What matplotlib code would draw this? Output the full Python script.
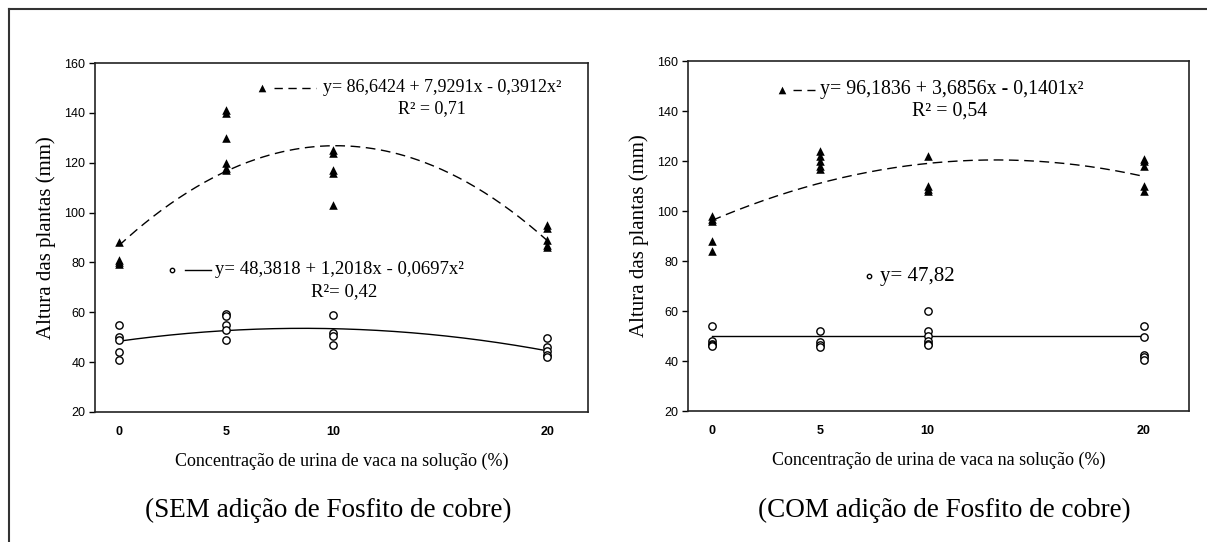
import matplotlib.pyplot as plt
from matplotlib.lines import Line2D
import numpy as np

# doses (% urina de vaca)
doses = [0, 5, 10, 20]

# SEM fosfito - triangulos (pontos por dose)
sem_tri = {0: [88, 81, 80, 79.5],
           5: [141, 140, 130, 120, 118, 117],
           10: [125, 124, 117, 116, 103],
           20: [95, 94, 89, 87, 86]}
sem_circ = {0: [55, 50, 49, 44, 41],
            5: [59.5, 58.5, 55, 53, 49],
            10: [59, 51.5, 50.5, 47],
            20: [49.5, 46, 44.5, 43, 42]}

# COM fosfito
com_tri = {0: [98, 97, 96, 88, 84],
           5: [124, 122, 120, 118, 117],
           10: [122, 110, 109, 108],
           20: [121, 120, 118, 110, 108]}
com_circ = {0: [54, 48, 47, 46.5, 46],
            5: [52, 47.5, 46.5, 45.5],
            10: [60, 52, 50, 48, 47, 46.5],
            20: [54, 49.5, 42.5, 41.5, 40.5]}

# coeficientes das regressoes
sem_tri_coef = [86.6424, 7.9291, -0.3912]
sem_circ_coef = [48.3818, 1.2018, -0.0697]
com_tri_coef = [96.1836, 3.6856, -0.1401]
com_circ_line = 50.2  # linha desenhada (y= 47,82 no texto)

yticks = [20, 40, 60, 80, 100, 120, 140, 160]

serif = ['Liberation Serif', 'DejaVu Serif']
sans = ['Liberation Sans', 'DejaVu Sans']

fig = plt.figure(figsize=(12.07, 5.42), dpi=100)
W, H = 1207, 542


def ax_rect(x0, x1, ytop, ybot):
    return [x0 / W, 1 - ybot / H, (x1 - x0) / W, (ybot - ytop) / H]


def quad(c, x):
    return c[0] + c[1] * x + c[2] * x ** 2


def draw_points(ax, pts, marker, filled):
    for d in doses:
        xs = [d] * len(pts[d])
        if filled:
            ax.scatter(xs, pts[d], marker=marker, s=38, c='black', zorder=3, linewidths=0)
        else:
            ax.scatter(xs, pts[d], marker=marker, s=28, facecolors='white',
                       edgecolors='black', linewidths=1.0, zorder=3)


def setup(ax, xlim):
    ax.set_xlim(*xlim)
    ax.set_ylim(20, 160)
    ax.set_xticks(doses)
    ax.set_yticks(yticks)
    ax.tick_params(axis='x', length=0, pad=10)
    ax.tick_params(axis='y', length=4, width=1, direction='out', pad=3)
    for lab in ax.get_xticklabels():
        lab.set_fontfamily(sans)
        lab.set_fontsize(9)
        lab.set_fontweight('bold')
    for lab in ax.get_yticklabels():
        lab.set_fontfamily(sans)
        lab.set_fontsize(9)
    for sp in ax.spines.values():
        sp.set_linewidth(1.2)
        sp.set_color('#222222')
    ax.set_ylabel('Altura das plantas (mm)', family=serif, fontsize=15, labelpad=6)
    ax.set_xlabel('Concentração de urina de vaca na solução (%)', family=serif,
                  fontsize=13, labelpad=11)


xx = np.linspace(0, 20, 200)
dash = (0, (7, 4))
short = (0, (6, 4))

# ---- painel esquerdo (SEM)
ax1 = fig.add_axes(ax_rect(95, 588, 63, 412))
setup(ax1, (-1.1, 21.9))
draw_points(ax1, sem_tri, '^', True)
draw_points(ax1, sem_circ, 'o', False)
ax1.plot(xx, quad(sem_tri_coef, xx), color='black', lw=1, linestyle=dash, zorder=2)
ax1.plot(xx, quad(sem_circ_coef, xx), color='black', lw=1, zorder=2)

ax1.scatter([6.67], [150], marker='^', s=30, c='black', linewidths=0)
ax1.plot([7.25, 9.2], [150, 150], color='black', lw=1, linestyle=short)
ax1.text(9.55, 150, 'y= 86,6424 + 7,9291x - 0,3912x²', family=serif, fontsize=13,
         va='center', ha='left')
ax1.text(14.6, 141.8, 'R² = 0,71', family=serif, fontsize=13, va='center', ha='center')

ax1.scatter([2.47], [77], marker='o', s=10, facecolors='white', edgecolors='black', linewidths=1)
ax1.plot([3.1, 4.3], [77, 77], color='black', lw=1)
ax1.text(4.5, 77, 'y= 48,3818 + 1,2018x - 0,0697x²', family=serif, fontsize=13.5,
         va='center', ha='left')
ax1.text(10.5, 68.5, 'R²= 0,42', family=serif, fontsize=13.5, va='center', ha='center')

# ---- painel direito (COM)
ax2 = fig.add_axes(ax_rect(688, 1189, 61, 411))
setup(ax2, (-1.1, 22.1))
draw_points(ax2, com_tri, '^', True)
draw_points(ax2, com_circ, 'o', False)
ax2.plot(xx, quad(com_tri_coef, xx), color='black', lw=1, linestyle=dash, zorder=2)
ax2.plot([0, 20], [com_circ_line, com_circ_line], color='black', lw=1, zorder=2)

ax2.scatter([3.25], [148.5], marker='^', s=30, c='black', linewidths=0)
ax2.plot([3.75, 4.8], [148.5, 148.5], color='black', lw=1, linestyle=short)
ax2.text(5.0, 148.5, 'y= 96,1836 + 3,6856x - 0,1401x²', family=serif, fontsize=14.3,
         va='center', ha='left')
ax2.text(11.0, 139.8, 'R² = 0,54', family=serif, fontsize=14.3, va='center', ha='center')

ax2.scatter([7.3], [74], marker='o', s=10, facecolors='white', edgecolors='black', linewidths=1)
ax2.text(7.8, 74, 'y= 47,82', family=serif, fontsize=15, va='center', ha='left')

# legendas inferiores
fig.text(328 / W, 1 - 510 / H, '(SEM adição de Fosfito de cobre)', family=serif,
         fontsize=19.5, ha='center', va='center')
fig.text(944 / W, 1 - 510 / H, '(COM adição de Fosfito de cobre)', family=serif,
         fontsize=19.5, ha='center', va='center')

# moldura
fig.add_artist(Line2D([9 / W, 9 / W], [0, 1 - 9 / H], color='#333333', lw=1.5))
fig.add_artist(Line2D([9 / W, 1], [1 - 9 / H, 1 - 9 / H], color='#333333', lw=1.5))

fig.savefig('out.png', dpi=100)
